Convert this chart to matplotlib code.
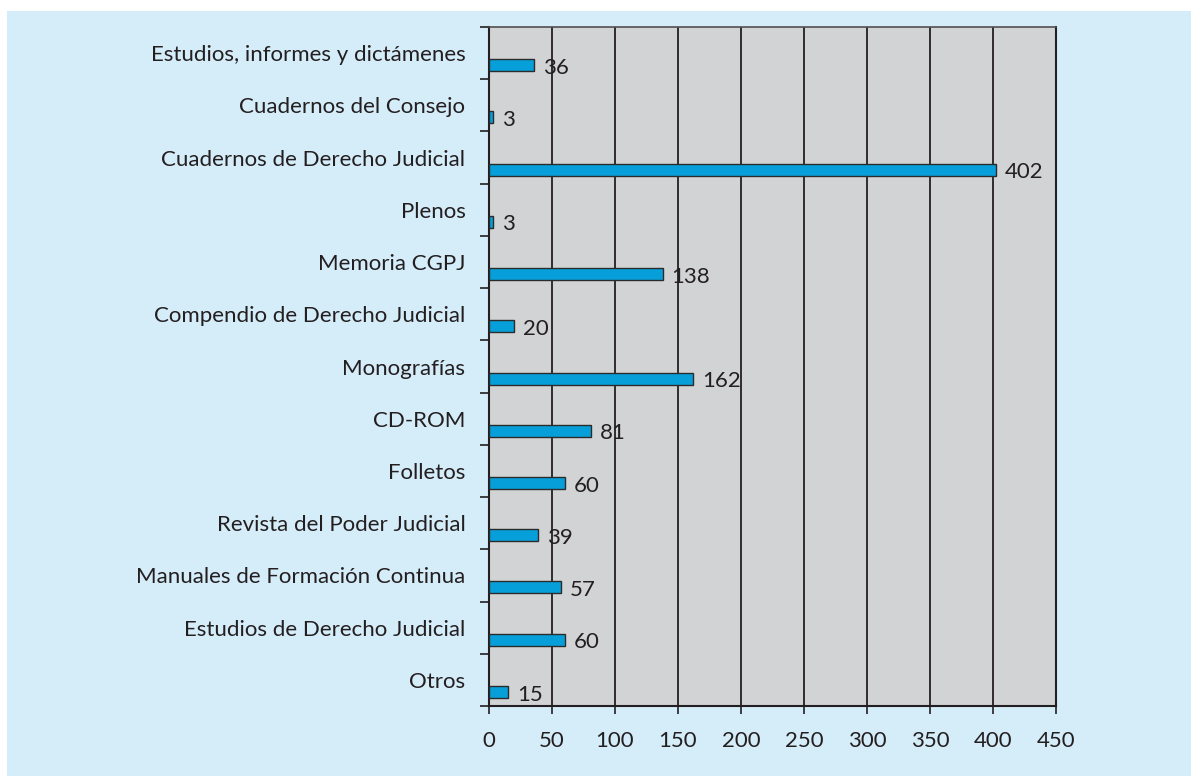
import matplotlib
matplotlib.use("Agg")
import matplotlib.pyplot as plt
from matplotlib.patches import Rectangle
import numpy as np

categories = [
    "Estudios, informes y dictámenes",
    "Cuadernos del Consejo",
    "Cuadernos de Derecho Judicial",
    "Plenos",
    "Memoria CGPJ",
    "Compendio de Derecho Judicial",
    "Monografías",
    "CD-ROM",
    "Folletos",
    "Revista del Poder Judicial",
    "Manuales de Formación Continua",
    "Estudios de Derecho Judicial",
    "Otros",
]
values = [36, 3, 402, 3, 138, 20, 162, 81, 60, 39, 57, 60, 15]
x_ticks = [0, 50, 100, 150, 200, 250, 300, 350, 400, 450]

BG = "#d5ecf9"
AX_BG = "#d2d3d5"
BAR = "#079fd9"
TXT = "#231f20"
FONT = "Lato"
FS = 16

plt.rcParams["font.family"] = [FONT, "DejaVu Sans"]

fig = plt.figure(figsize=(11.91, 7.76), dpi=100)
fig.patch.set_facecolor("white")
# light blue panel, white strip on top and left edge
fig.patches.append(Rectangle((7 / 1191, -0.01), 1.01, 765 / 776 + 0.01, transform=fig.transFigure,
                             facecolor=BG, edgecolor="none", zorder=-10))

ax = fig.add_axes([489 / 1191, 1 - 706 / 776, 567 / 1191, 679 / 776])
ax.set_facecolor(AX_BG)

n = len(categories)
pos = np.arange(n) + 0.23
ax.barh(pos, values, height=0.23, color=BAR, edgecolor="#2b2b2b", linewidth=1.0, zorder=3)
for p, v in zip(pos, values):
    ax.text(v + 7, p + 0.05, str(v), va="center", ha="left", fontsize=FS, color=TXT, zorder=4)

ax.set_xlim(0, 450)
ax.set_ylim(n - 0.5, -0.5)
ax.set_xticks(x_ticks)
ax.set_xticklabels([str(t) for t in x_ticks], fontsize=FS, color=TXT)
ax.tick_params(axis="x", length=6, width=1.2, color=TXT, pad=12)

# ticks on band boundaries, labels centred in each band
ax.set_yticks(np.arange(-0.5, n, 1.0))
ax.set_yticklabels([])
ax.set_yticks(np.arange(n), minor=True)
ax.set_yticklabels(categories, minor=True, fontsize=FS, color=TXT)
ax.tick_params(axis="y", which="major", length=6.5, width=1.2, color=TXT)
ax.tick_params(axis="y", which="minor", length=0, pad=17)

ax.grid(axis="x", color=TXT, linewidth=1.3, zorder=1)
ax.set_axisbelow(True)
for side in ("left", "bottom", "right"):
    ax.spines[side].set_color(TXT)
    ax.spines[side].set_linewidth(1.5)
ax.spines["top"].set_color("#505050")
ax.spines["top"].set_linewidth(1.2)

fig.savefig("out.png", dpi=100, facecolor=fig.get_facecolor())
